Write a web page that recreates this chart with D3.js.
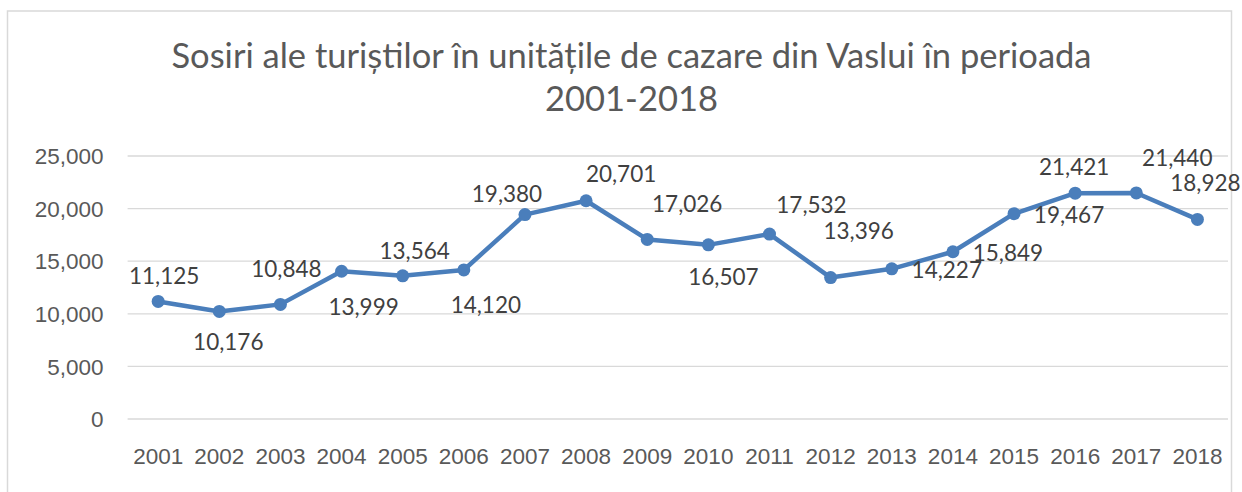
<!DOCTYPE html>
<html>
<head>
<meta charset="utf-8">
<script src="https://cdn.jsdelivr.net/npm/d3@7"></script>
<style>
  body { margin: 0; background: #fff; }
  svg { display: block; font-family: Lato, "Open Sans", sans-serif; }
  .tick text { fill: #595959; font-size: 22.5px; }
  .data-label { fill: #404040; font-size: 22.5px; }
  .chart-title { fill: #595959; font-size: 34.5px; }
</style>
</head>
<body>
<svg id="chart" width="1242" height="492"></svg>
<script>
const years = ["2001","2002","2003","2004","2005","2006","2007","2008","2009",
  "2010","2011","2012","2013","2014","2015","2016","2017","2018"];
const arrivals = [11125, 10176, 10848, 13999, 13564, 14120, 19380, 20701, 17026,
  16507, 17532, 13396, 14227, 15849, 19467, 21421, 21440, 18928];
const yTicks = [0, 5000, 10000, 15000, 20000, 25000];
const titleLines = ["Sosiri ale turiștilor în unitățile de cazare din Vaslui în perioada", "2001-2018"];

// where Excel put each data label, relative to its point (layout only)
const labelOffsets = [[6,-26],[9,30],[6,-36],[22,35],[12,-25],[22,35],[-18,-21],[35,-27],
  [40,-36],[15,32],[42,-30],[28,-47],[55,1],[55,1],[55,1],[-1,-27],[41,-35],[8,-37]];

const svg = d3.select("#chart");
const margin = {top: 155.5, right: 14, bottom: 73.5, left: 127.6};
const width = 1242, height = 492;

// chart area border
svg.append("rect")
  .attr("x", 7.5).attr("y", 11)
  .attr("width", 1224).attr("height", 500)
  .attr("fill", "none")
  .attr("stroke", "#d9d9d9")
  .attr("stroke-width", 1.5);

svg.append("g")
  .selectAll("text")
  .data(titleLines)
  .join("text")
    .attr("class", "chart-title")
    .attr("x", 631.5)
    .attr("y", (d, i) => 68 + i * 43)
    .attr("text-anchor", "middle")
    .text(d => d);

const x = d3.scaleBand()
  .domain(years)
  .range([margin.left, width - margin.right]);

const y = d3.scaleLinear()
  .domain([0, 25000])
  .range([height - margin.bottom, margin.top]);

// gridlines + y labels
svg.append("g")
  .attr("transform", `translate(${margin.left},0)`)
  .call(d3.axisLeft(y).tickValues(yTicks).tickFormat(d3.format(",")).tickSize(-(width - margin.right - margin.left)).tickPadding(24))
  .call(g => g.select(".domain").remove())
  .call(g => g.selectAll(".tick line").attr("stroke", "#d9d9d9").attr("stroke-width", 1.3))
  .call(g => g.selectAll(".tick text").attr("dy", "0.36em"));

// x labels
svg.append("g")
  .attr("transform", `translate(0,${height - margin.bottom})`)
  .call(d3.axisBottom(x).tickSize(0).tickPadding(30))
  .call(g => g.select(".domain").remove())
  .call(g => g.selectAll(".tick text").attr("dy", "0.71em"));

const pts = years.map((yr, i) => ({year: yr, value: arrivals[i], off: labelOffsets[i]}));
const cx = d => x(d.year) + x.bandwidth() / 2;

const line = d3.line()
  .x(cx)
  .y(d => y(d.value));

svg.append("path")
  .datum(pts)
  .attr("fill", "none")
  .attr("stroke", "#4a7ebb")
  .attr("stroke-width", 4.5)
  .attr("stroke-linejoin", "round")
  .attr("d", line);

svg.append("g")
  .attr("fill", "#4a7ebb")
  .selectAll("circle")
  .data(pts)
  .join("circle")
    .attr("cx", cx)
    .attr("cy", d => y(d.value))
    .attr("r", 6.5);

svg.append("g")
  .selectAll("text")
  .data(pts)
  .join("text")
    .attr("class", "data-label")
    .attr("x", d => cx(d) + d.off[0])
    .attr("y", d => y(d.value) + d.off[1])
    .attr("text-anchor", "middle")
    .attr("dominant-baseline", "central")
    .text(d => d3.format(",")(d.value));
</script>
</body>
</html>
